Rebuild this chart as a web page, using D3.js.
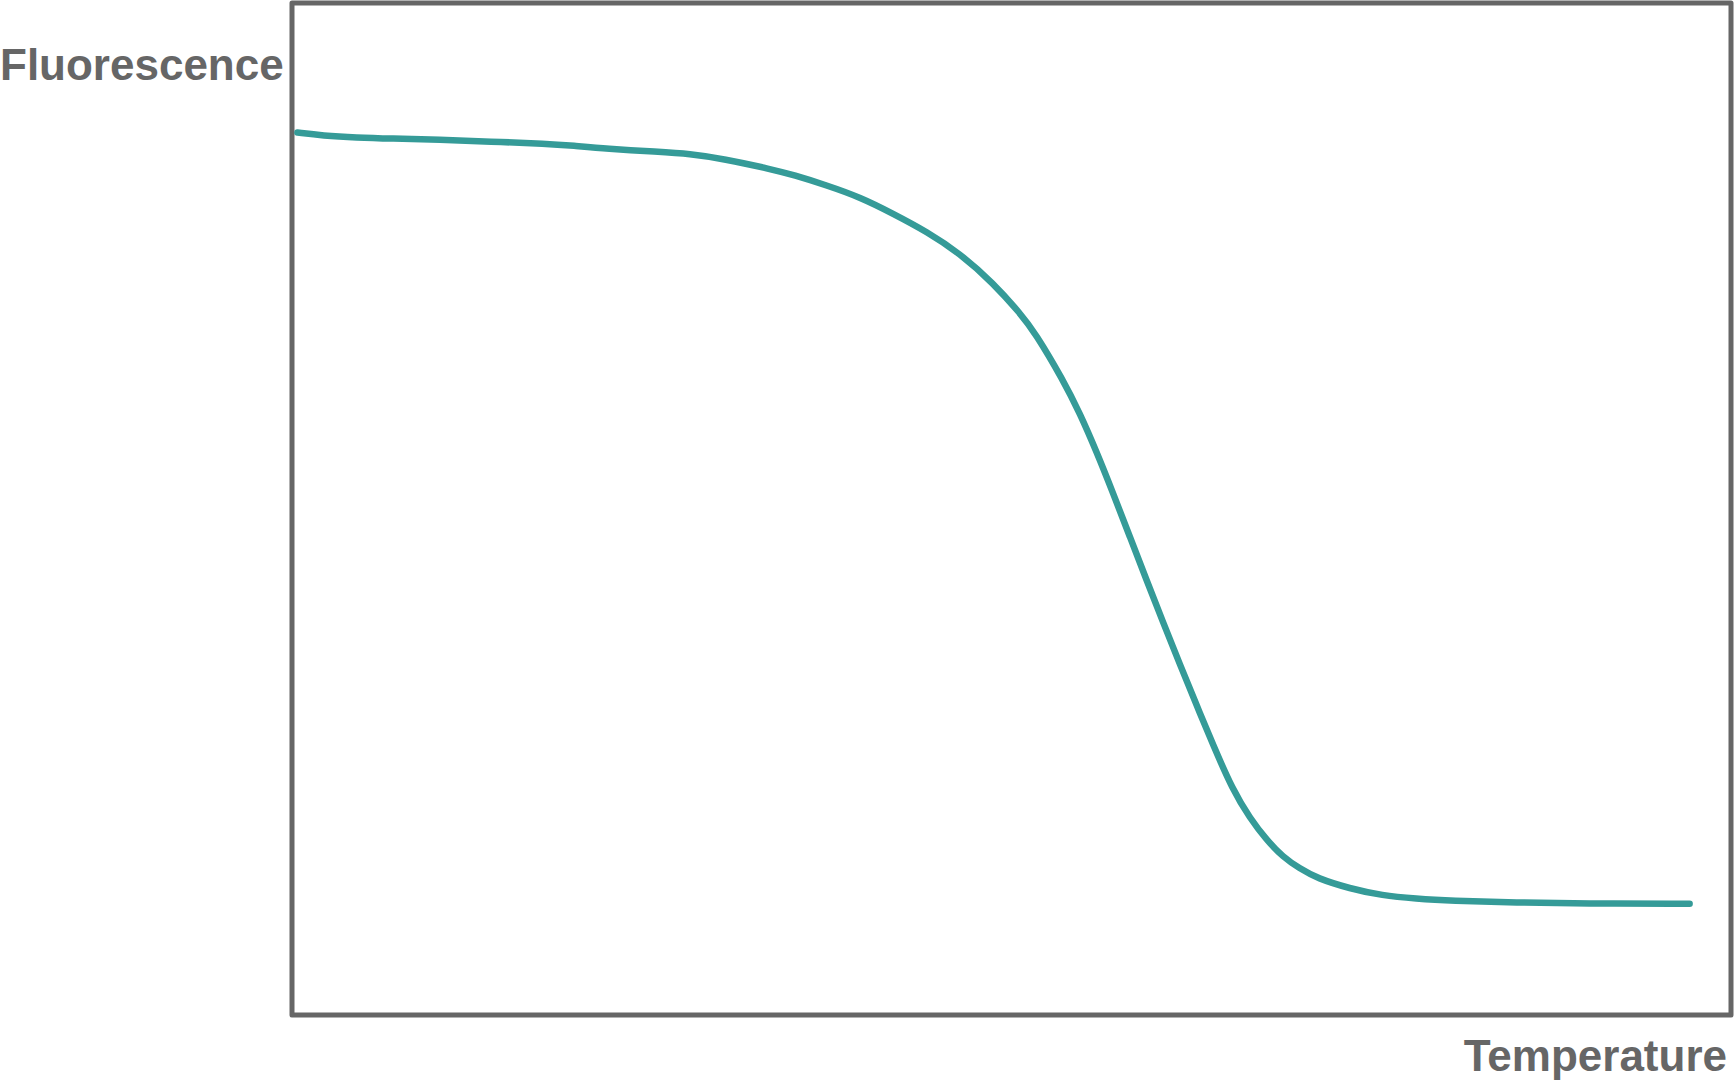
<!DOCTYPE html>
<html>
<head>
<meta charset="utf-8">
<script src="https://cdn.jsdelivr.net/npm/d3@7.9.0/dist/d3.min.js"></script>
<style>
  html, body { margin: 0; padding: 0; background: #fff; }
  svg { display: block; }
  .label { font-family: "Liberation Sans", Arial, sans-serif; font-weight: bold; font-size: 44px; fill: #666; }
</style>
</head>
<body>
<svg id="chart"></svg>
<script>
// melt curve (temperature in arbitrary units, fluorescence in %)
const temperature = [
  20.3, 21.7, 23.6, 25.5, 28.2, 31.0, 34.2, 35.6, 37.5, 40.3, 42.1, 44.0,
  46.6, 47.9, 49.7, 51.6, 53.4, 55.3, 57.1, 59.0, 60.5, 61.30, 62.87, 63.80,
  64.73, 65.65, 66.58, 67.51, 68.43, 69.36, 70.29, 71.19, 72.30, 73.25, 74.18, 75.1,
  76.0, 77.0, 78.8, 80.6, 82.5, 84.4, 88.1, 91.8, 97.7
];
const fluorescence = [
  87.2, 86.9, 86.7, 86.6, 86.5, 86.3, 86.1, 85.9, 85.6, 85.3, 85.1, 84.6,
  83.6, 83.0, 82.0, 80.8, 79.2, 77.4, 75.3, 72.3, 69.3, 67.46, 62.75, 59.45,
  55.65, 51.55, 47.26, 42.97, 38.79, 34.66, 30.62, 26.76, 22.23, 19.47, 17.29, 15.6,
  14.5, 13.5, 12.5, 11.8, 11.5, 11.3, 11.1, 11.0, 11.0
];
const xTitle = "Temperature";
const yTitle = "Fluorescence";

const width = 1734, height = 1080;
const svg = d3.select("#chart").attr("width", width).attr("height", height);

const x = d3.scaleLinear().domain([20, 100]).range([292, 1731]);
const y = d3.scaleLinear().domain([0, 100]).range([1015, 3]);

// frame
svg.append("rect")
  .attr("x", x.range()[0])
  .attr("y", y.range()[1])
  .attr("width", x.range()[1] - x.range()[0])
  .attr("height", y.range()[0] - y.range()[1])
  .attr("fill", "none")
  .attr("stroke", "#666")
  .attr("stroke-width", 5)
  .attr("stroke-linejoin", "round");

const points = temperature.map((t, i) => [t, fluorescence[i]]);

const line = d3.line()
  .x(d => x(d[0]))
  .y(d => y(d[1]))
  .curve(d3.curveBasis);

svg.append("path")
  .datum(points)
  .attr("d", line)
  .attr("fill", "none")
  .attr("stroke", "#359b98")
  .attr("stroke-width", 6.5)
  .attr("stroke-linecap", "round")
  .attr("stroke-linejoin", "round");

svg.append("text")
  .attr("class", "label")
  .attr("x", 0)
  .attr("y", 80)
  .text(yTitle);

svg.append("text")
  .attr("class", "label")
  .attr("x", 1727)
  .attr("y", 1071)
  .attr("text-anchor", "end")
  .text(xTitle);
</script>
</body>
</html>
